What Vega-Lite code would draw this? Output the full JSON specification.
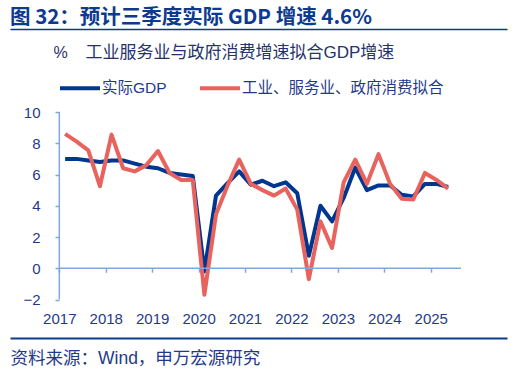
{
  "$schema": "https://vega.github.io/schema/vega-lite/v6.json",
  "width": 497,
  "height": 309,
  "autosize": {"type": "none"},
  "padding": {"left": 10, "top": 29, "right": 16, "bottom": 38},
  "background": "white",
  "config": {"view": {"stroke": null}, "font": "Liberation Sans, Noto Sans CJK SC"},
  "title": {"text": "图 32：预计三季度实际 GDP 增速 4.6%", "anchor": "start", "frame": "group", "orient": "top", "offset": -15, "baseline": "alphabetic", "font": "Noto Sans CJK SC", "fontSize": 20.5, "fontWeight": "bold", "color": "#0C3A8E"},
  "data": {"values": [
    {"quarter": "2017Q1", "t": 2017.125, "series": "实际GDP", "value": 7.0},
    {"quarter": "2017Q2", "t": 2017.375, "series": "实际GDP", "value": 7.0},
    {"quarter": "2017Q3", "t": 2017.625, "series": "实际GDP", "value": 6.9},
    {"quarter": "2017Q4", "t": 2017.875, "series": "实际GDP", "value": 6.8},
    {"quarter": "2018Q1", "t": 2018.125, "series": "实际GDP", "value": 6.9},
    {"quarter": "2018Q2", "t": 2018.375, "series": "实际GDP", "value": 6.9},
    {"quarter": "2018Q3", "t": 2018.625, "series": "实际GDP", "value": 6.7},
    {"quarter": "2018Q4", "t": 2018.875, "series": "实际GDP", "value": 6.5},
    {"quarter": "2019Q1", "t": 2019.125, "series": "实际GDP", "value": 6.4},
    {"quarter": "2019Q2", "t": 2019.375, "series": "实际GDP", "value": 6.1},
    {"quarter": "2019Q3", "t": 2019.625, "series": "实际GDP", "value": 6.0},
    {"quarter": "2019Q4", "t": 2019.875, "series": "实际GDP", "value": 5.9},
    {"quarter": "2020Q1", "t": 2020.125, "series": "实际GDP", "value": -0.2},
    {"quarter": "2020Q2", "t": 2020.375, "series": "实际GDP", "value": 4.65},
    {"quarter": "2020Q3", "t": 2020.625, "series": "实际GDP", "value": 5.45},
    {"quarter": "2020Q4", "t": 2020.875, "series": "实际GDP", "value": 6.2},
    {"quarter": "2021Q1", "t": 2021.125, "series": "实际GDP", "value": 5.35},
    {"quarter": "2021Q2", "t": 2021.375, "series": "实际GDP", "value": 5.6},
    {"quarter": "2021Q3", "t": 2021.625, "series": "实际GDP", "value": 5.25},
    {"quarter": "2021Q4", "t": 2021.875, "series": "实际GDP", "value": 5.5},
    {"quarter": "2022Q1", "t": 2022.125, "series": "实际GDP", "value": 4.8},
    {"quarter": "2022Q2", "t": 2022.375, "series": "实际GDP", "value": 0.8},
    {"quarter": "2022Q3", "t": 2022.625, "series": "实际GDP", "value": 4.0},
    {"quarter": "2022Q4", "t": 2022.875, "series": "实际GDP", "value": 3.0},
    {"quarter": "2023Q1", "t": 2023.125, "series": "实际GDP", "value": 4.5},
    {"quarter": "2023Q2", "t": 2023.375, "series": "实际GDP", "value": 6.45},
    {"quarter": "2023Q3", "t": 2023.625, "series": "实际GDP", "value": 5.0},
    {"quarter": "2023Q4", "t": 2023.875, "series": "实际GDP", "value": 5.3},
    {"quarter": "2024Q1", "t": 2024.125, "series": "实际GDP", "value": 5.3},
    {"quarter": "2024Q2", "t": 2024.375, "series": "实际GDP", "value": 4.7},
    {"quarter": "2024Q3", "t": 2024.625, "series": "实际GDP", "value": 4.6},
    {"quarter": "2024Q4", "t": 2024.875, "series": "实际GDP", "value": 5.4},
    {"quarter": "2025Q1", "t": 2025.125, "series": "实际GDP", "value": 5.4},
    {"quarter": "2025Q2", "t": 2025.375, "series": "实际GDP", "value": 5.2},
    {"quarter": "2017Q1", "t": 2017.125, "series": "工业、服务业、政府消费拟合", "value": 8.6},
    {"quarter": "2017Q2", "t": 2017.375, "series": "工业、服务业、政府消费拟合", "value": 8.1},
    {"quarter": "2017Q3", "t": 2017.625, "series": "工业、服务业、政府消费拟合", "value": 7.55},
    {"quarter": "2017Q4", "t": 2017.875, "series": "工业、服务业、政府消费拟合", "value": 5.25},
    {"quarter": "2018Q1", "t": 2018.125, "series": "工业、服务业、政府消费拟合", "value": 8.55},
    {"quarter": "2018Q2", "t": 2018.375, "series": "工业、服务业、政府消费拟合", "value": 6.4},
    {"quarter": "2018Q3", "t": 2018.625, "series": "工业、服务业、政府消费拟合", "value": 6.2},
    {"quarter": "2018Q4", "t": 2018.875, "series": "工业、服务业、政府消费拟合", "value": 6.6},
    {"quarter": "2019Q1", "t": 2019.125, "series": "工业、服务业、政府消费拟合", "value": 7.5},
    {"quarter": "2019Q2", "t": 2019.375, "series": "工业、服务业、政府消费拟合", "value": 6.1},
    {"quarter": "2019Q3", "t": 2019.625, "series": "工业、服务业、政府消费拟合", "value": 5.65},
    {"quarter": "2019Q4", "t": 2019.875, "series": "工业、服务业、政府消费拟合", "value": 5.65},
    {"quarter": "2020Q1", "t": 2020.125, "series": "工业、服务业、政府消费拟合", "value": -1.7},
    {"quarter": "2020Q2", "t": 2020.375, "series": "工业、服务业、政府消费拟合", "value": 3.45},
    {"quarter": "2020Q3", "t": 2020.625, "series": "工业、服务业、政府消费拟合", "value": 5.3},
    {"quarter": "2020Q4", "t": 2020.875, "series": "工业、服务业、政府消费拟合", "value": 6.95},
    {"quarter": "2021Q1", "t": 2021.125, "series": "工业、服务业、政府消费拟合", "value": 5.4},
    {"quarter": "2021Q2", "t": 2021.375, "series": "工业、服务业、政府消费拟合", "value": 5.0},
    {"quarter": "2021Q3", "t": 2021.625, "series": "工业、服务业、政府消费拟合", "value": 4.65},
    {"quarter": "2021Q4", "t": 2021.875, "series": "工业、服务业、政府消费拟合", "value": 5.1},
    {"quarter": "2022Q1", "t": 2022.125, "series": "工业、服务业、政府消费拟合", "value": 3.75},
    {"quarter": "2022Q2", "t": 2022.375, "series": "工业、服务业、政府消费拟合", "value": -0.7},
    {"quarter": "2022Q3", "t": 2022.625, "series": "工业、服务业、政府消费拟合", "value": 3.0},
    {"quarter": "2022Q4", "t": 2022.875, "series": "工业、服务业、政府消费拟合", "value": 1.3},
    {"quarter": "2023Q1", "t": 2023.125, "series": "工业、服务业、政府消费拟合", "value": 5.5},
    {"quarter": "2023Q2", "t": 2023.375, "series": "工业、服务业、政府消费拟合", "value": 6.95},
    {"quarter": "2023Q3", "t": 2023.625, "series": "工业、服务业、政府消费拟合", "value": 5.4},
    {"quarter": "2023Q4", "t": 2023.875, "series": "工业、服务业、政府消费拟合", "value": 7.3},
    {"quarter": "2024Q1", "t": 2024.125, "series": "工业、服务业、政府消费拟合", "value": 5.4},
    {"quarter": "2024Q2", "t": 2024.375, "series": "工业、服务业、政府消费拟合", "value": 4.45},
    {"quarter": "2024Q3", "t": 2024.625, "series": "工业、服务业、政府消费拟合", "value": 4.4},
    {"quarter": "2024Q4", "t": 2024.875, "series": "工业、服务业、政府消费拟合", "value": 6.1},
    {"quarter": "2025Q1", "t": 2025.125, "series": "工业、服务业、政府消费拟合", "value": 5.65},
    {"quarter": "2025Q2", "t": 2025.375, "series": "工业、服务业、政府消费拟合", "value": 5.1}
  ]},
  "layer": [
    {
      "transform": [{"filter": "datum.series === '实际GDP'"}],
      "mark": {"type": "line", "strokeWidth": 4, "strokeJoin": "round"},
      "encoding": {
        "x": {"field": "t", "type": "quantitative", "scale": {"domain": [2015.938, 2026.643], "nice": false, "zero": false},
          "axis": {"orient": "bottom", "offset": -38, "domain": false, "ticks": false, "tickSize": 0, "values": [2017, 2018, 2019, 2020, 2021, 2022, 2023, 2024, 2025], "format": "d", "labelFontSize": 15, "labelColor": "#1F3A8A", "labelFont": "Liberation Sans", "labelPadding": 11, "labelFlush": false, "labelOverlap": false, "grid": false, "title": null}},
        "y": {"field": "value", "type": "quantitative", "scale": {"domain": [-4.464, 15.312], "nice": false, "zero": false},
          "axis": {"orient": "left", "offset": -49, "domain": false, "ticks": true, "tickSize": 4, "tickColor": "#7EA9DE", "tickWidth": 1.5, "values": [-2, 0, 2, 4, 6, 8, 10], "labelFontSize": 15, "labelColor": "#1F3A8A", "labelFont": "Liberation Sans", "labelPadding": 15, "labelFlush": false, "labelOverlap": false, "grid": false, "title": "%", "titleX": -6, "titleY": 23, "titleAngle": 0, "titleAlign": "left", "titleBaseline": "middle", "titleFontSize": 16, "titleFontWeight": "normal", "titleColor": "#25326B", "titleFont": "Liberation Sans"}},
        "color": {"field": "series", "type": "nominal", "scale": {"domain": ["实际GDP", "工业、服务业、政府消费拟合"], "range": ["#00368F", "#E8625E"]},
          "legend": {"orient": "none", "legendX": 48, "legendY": 37, "direction": "horizontal", "title": null, "symbolType": "stroke", "symbolSize": 1600, "symbolStrokeWidth": 4, "labelFontSize": 15.5, "labelColor": "#1F3A8A", "labelFont": "Liberation Sans, Noto Sans CJK SC", "labelOffset": 0, "columnPadding": 25, "labelLimit": 400}}
      }
    },
    {
      "transform": [{"filter": "datum.series !== '实际GDP'"}],
      "mark": {"type": "line", "strokeWidth": 4, "strokeJoin": "round"},
      "encoding": {
        "x": {"field": "t", "type": "quantitative", "scale": {"domain": [2015.938, 2026.643], "nice": false, "zero": false},
          "axis": {"orient": "bottom", "offset": 0, "domain": true, "domainColor": "#0C3A8E", "domainWidth": 2, "ticks": false, "labels": false, "grid": false, "title": "资料来源：Wind，申万宏源研究", "titleX": 0, "titleY": 20, "titleAlign": "left", "titleBaseline": "middle", "titleFontSize": 17.5, "titleFontWeight": "normal", "titleColor": "#1F3A8A", "titleFont": "Liberation Sans, Noto Sans CJK SC"}},
        "y": {"field": "value", "type": "quantitative", "scale": {"domain": [-4.464, 15.312], "nice": false, "zero": false}, "axis": null},
        "color": {"field": "series", "type": "nominal", "scale": {"domain": ["实际GDP", "工业、服务业、政府消费拟合"], "range": ["#00368F", "#E8625E"]},
          "legend": {"orient": "none", "legendX": 48, "legendY": 37, "direction": "horizontal", "title": null, "symbolType": "stroke", "symbolSize": 1600, "symbolStrokeWidth": 4, "labelFontSize": 15.5, "labelColor": "#1F3A8A", "labelFont": "Liberation Sans, Noto Sans CJK SC", "labelOffset": 0, "columnPadding": 25, "labelLimit": 400}}
      }
    },
    {
      "data": {"values": [{}]},
      "mark": {"type": "rule", "color": "#7EA9DE", "strokeWidth": 1.5},
      "encoding": {
        "x": {"datum": 2017, "type": "quantitative", "scale": {"domain": [2015.938, 2026.643], "nice": false, "zero": false},
          "axis": {"orient": "bottom", "offset": -69.75, "domain": false, "ticks": true, "tickSize": 4, "tickColor": "#7EA9DE", "tickWidth": 1.5, "labels": false, "values": [2017, 2018, 2019, 2020, 2021, 2022, 2023, 2024, 2025], "grid": false, "title": null}},
        "x2": {"datum": 2025.652},
        "y": {"datum": 0, "type": "quantitative", "scale": {"domain": [-4.464, 15.312], "nice": false, "zero": false}, "axis": null}
      }
    },
    {
      "data": {"values": [{}]},
      "mark": {"type": "rule", "color": "#7EA9DE", "strokeWidth": 1.5},
      "encoding": {
        "x": {"datum": 2017, "type": "quantitative", "scale": {"domain": [2015.938, 2026.643], "nice": false, "zero": false},
          "axis": {"orient": "top", "offset": 0, "domain": true, "domainColor": "#0C3A8E", "domainWidth": 1.5, "ticks": false, "labels": false, "grid": false, "title": "工业服务业与政府消费增速拟合GDP增速", "titleX": 75, "titleY": 23, "titleAlign": "left", "titleBaseline": "middle", "titleAngle": 0, "titleFontSize": 17, "titleFontWeight": "normal", "titleColor": "#25326B", "titleFont": "Liberation Sans, Noto Sans CJK SC"}},
        "y": {"datum": -2, "type": "quantitative", "scale": {"domain": [-4.464, 15.312], "nice": false, "zero": false}, "axis": null},
        "y2": {"datum": 10}
      }
    }
  ],
  "resolve": {"axis": {"x": "independent", "y": "independent"}}
}
